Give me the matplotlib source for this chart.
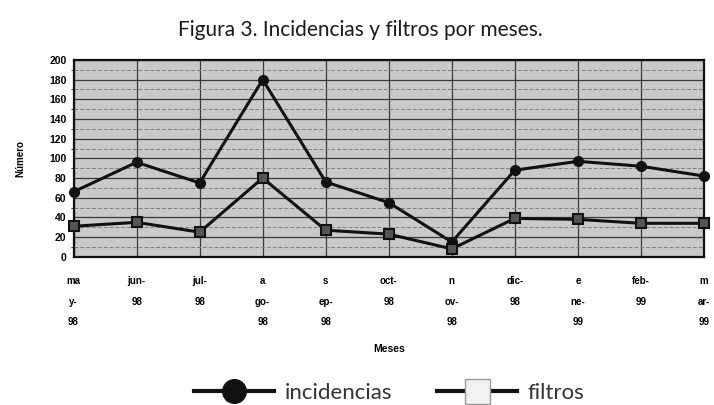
import matplotlib.pyplot as plt
from matplotlib.lines import Line2D
import numpy as np

meses = ["ma\ny-\n98", "jun-\n98", "jul-\n98", "a\ngo-\n98", "s\nep-\n98", "oct-\n98",
         "n\nov-\n98", "dic-\n98", "e\nne-\n99", "feb-\n99", "m\nar-\n99"]
incidencias = [66, 96, 75, 180, 76, 55, 15, 88, 97, 92, 82]
filtros = [31, 35, 25, 80, 27, 23, 8, 39, 38, 34, 34]
y_ticks = list(range(0, 201, 20))

plt.rcParams["font.family"] = ["Liberation Sans", "DejaVu Sans"]

fig = plt.figure(figsize=(7.14, 4.05), dpi=100)
ax = fig.add_axes([0.103, 0.366, 0.883, 0.486])
ax.set_facecolor("#c9c9c9")

x = np.arange(len(meses))

# grid: strong lines every 20, faint ones every 10
ax.set_yticks(y_ticks)
ax.set_yticks(range(10, 200, 20), minor=True)
ax.grid(which="major", axis="y", color="#3a3a3a", linewidth=0.9)
ax.grid(which="minor", axis="y", color="#808080", linewidth=0.7, linestyle=(0, (4, 2)))
ax.set_xticks(x)
ax.grid(which="major", axis="x", color="#3a3a3a", linewidth=0.9)
ax.set_axisbelow(True)

ax.plot(x, incidencias, color="#111111", linewidth=2.2, marker="o",
        markersize=7, markerfacecolor="#111111", clip_on=False, zorder=3)
ax.plot(x, filtros, color="#111111", linewidth=2.2, marker="s",
        markersize=7, markerfacecolor="#555555", markeredgecolor="#111111",
        markeredgewidth=1.5, clip_on=False, zorder=3)

ax.set_xlim(0, len(meses) - 1)
ax.set_ylim(0, 200)
ax.set_xticklabels(meses, fontsize=7, fontweight="bold", linespacing=2.3, va="top")
ax.set_yticklabels([str(v) for v in y_ticks], fontsize=7.5, fontweight="bold")
ax.tick_params(axis="x", length=0, pad=14)
ax.tick_params(axis="y", length=0, pad=5)
for s in ax.spines.values():
    s.set_color("#111111")
    s.set_linewidth(1.6)

ax.set_ylabel("Número", fontsize=7, fontweight="bold", labelpad=17)
ax.set_xlabel("Meses", fontsize=7.5, fontweight="bold", labelpad=12)

fig.text(0.505, 0.925, "Figura 3. Incidencias y filtros por meses.",
         ha="center", va="center", fontsize=15, family="Lato", color="#1a1a1a")

handles = [
    Line2D([], [], color="#111111", linewidth=3, marker="o", markersize=17,
           markerfacecolor="#111111"),
    Line2D([], [], color="#111111", linewidth=3, marker="s", markersize=18,
           markerfacecolor="#f2f2f2", markeredgecolor="#999999", markeredgewidth=1),
]
leg = fig.legend(handles, ["incidencias", "filtros"], loc="lower center",
                 bbox_to_anchor=(0.545, -0.045), ncol=2, frameon=False,
                 handlelength=3.6, columnspacing=2.0, handletextpad=0.5,
                 prop={"family": "Lato", "size": 16})
for t in leg.get_texts():
    t.set_color("#333333")

fig.savefig("out.png", dpi=100)
